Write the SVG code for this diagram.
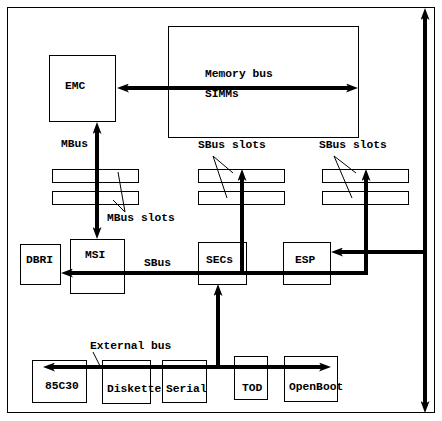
<svg xmlns="http://www.w3.org/2000/svg" width="442" height="421" viewBox="0 0 442 421">
<defs>
<style>
.box{fill:none;stroke:#000;stroke-width:1}
.t{font-family:"Liberation Mono","DejaVu Sans Mono",monospace;font-weight:bold;font-size:11.3px;fill:#000}
.bus{fill:none;stroke:#000;stroke-width:4}
.thin{fill:none;stroke:#000;stroke-width:1}
</style>
<marker id="ah" viewBox="0 0 12 9" markerWidth="12" markerHeight="9" refX="3" refY="4.5" orient="auto-start-reverse" markerUnits="userSpaceOnUse">
<path d="M0,0 L12,4.5 L0,9 L3,4.5 z" fill="#000"/>
</marker>
</defs>
<rect width="442" height="421" fill="#fff"/>
<rect id="frame" class="box" x="7.5" y="7.5" width="427" height="405"/>

<g id="memory"><rect class="box" x="168.5" y="26.5" width="190" height="111"/>
<text class="t" x="205" y="77">Memory bus</text>
<text class="t" x="205" y="97">SIMMs</text></g>
<g id="emc"><rect class="box" x="49.5" y="55.5" width="66" height="66"/><text class="t" x="65" y="89">EMC</text></g>

<g id="mbus-slots"><rect class="box" x="52.5" y="169.5" width="86" height="13"/><rect class="box" x="52.5" y="191.5" width="86" height="13"/>
<text class="t" x="107" y="221">MBus slots</text></g>
<g id="sbus-slots-1"><rect class="box" x="198.5" y="169.5" width="86" height="13"/><rect class="box" x="198.5" y="191.5" width="86" height="13"/>
<text class="t" x="198" y="148">SBus slots</text></g>
<g id="sbus-slots-2"><rect class="box" x="322.5" y="169.5" width="86" height="13"/><rect class="box" x="322.5" y="191.5" width="86" height="13"/>
<text class="t" x="319" y="148">SBus slots</text></g>

<g id="dbri"><rect class="box" x="20.5" y="244.5" width="40" height="40"/><text class="t" x="26" y="263">DBRI</text></g>
<g id="msi"><rect class="box" x="70.5" y="239.5" width="54" height="54"/><text class="t" x="85" y="258">MSI</text></g>
<g id="secs"><rect class="box" x="198.5" y="242.5" width="48" height="42"/><text class="t" x="206" y="263">SECs</text></g>
<g id="esp"><rect class="box" x="283.5" y="242.5" width="47" height="42"/><text class="t" x="295" y="263">ESP</text></g>

<g id="b85c30"><rect class="box" x="32.5" y="360.5" width="54" height="42"/><text class="t" x="45" y="389">85C30</text></g>
<g id="diskette"><rect class="box" x="102.5" y="360.5" width="48" height="43"/><text class="t" x="107" y="392">Diskette</text></g>
<g id="serial"><rect class="box" x="162.5" y="360.5" width="44" height="42"/><text class="t" x="166" y="392">Serial</text></g>
<g id="tod"><rect class="box" x="234.5" y="356.5" width="33" height="43"/><text class="t" x="242" y="391">TOD</text></g>
<g id="openboot"><rect class="box" x="284.5" y="356.5" width="53" height="45"/><text class="t" x="289" y="390">OpenBoot</text></g>

<g id="labels">
<text class="t" x="61" y="147">MBus</text>
<text class="t" x="144" y="266">SBus</text>
<text class="t" x="90" y="349">External bus</text>
</g>

<g id="connectors">
<path class="bus" d="M126,88 L349,88" marker-start="url(#ah)" marker-end="url(#ah)"/>
<path class="bus" d="M97,131 L97,230" marker-start="url(#ah)" marker-end="url(#ah)"/>
<path class="bus" d="M70,273 L366,273 L366,178" marker-start="url(#ah)" marker-end="url(#ah)"/>
<path class="bus" d="M242,273 L242,178" marker-end="url(#ah)"/>
<path class="bus" d="M425,252 L340,252" marker-end="url(#ah)"/>
<path class="bus" d="M218,367 L218,293" marker-end="url(#ah)"/>
<path class="bus" d="M52,367 L322,367" marker-start="url(#ah)" marker-end="url(#ah)"/>
<path class="bus" d="M425,17 L425,404" marker-start="url(#ah)" marker-end="url(#ah)"/>
<path class="thin" d="M118,172 L125,212 M113,200 L125,212"/>
<path class="thin" d="M213,156 L233,173 M213,156 L227,198"/>
<path class="thin" d="M334,156 L356,173 M334,156 L352,198"/>
<path class="thin" d="M93,352 L100,366"/>
</g>
</svg>
